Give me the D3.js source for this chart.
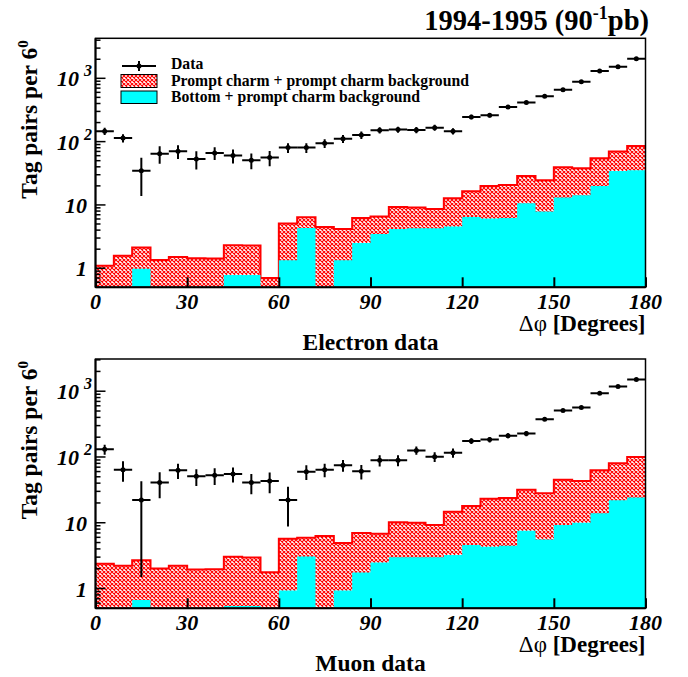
<!DOCTYPE html>
<html><head><meta charset="utf-8">
<script src="https://cdn.jsdelivr.net/npm/d3@7"></script>
<style>body{margin:0;background:#fff}svg{display:block}</style>
</head><body>
<svg id="c" width="688" height="677"></svg>
<script>
// ---------------- data ----------------
const binEdges = d3.range(0, 181, 6);           // 30 bins of 6 degrees
const xTicks = [0, 30, 60, 90, 120, 150, 180];
const yTickLabels = [["1", ""], ["10", ""], ["10", "2"], ["10", "3"]];
const yTickValues = [1, 10, 100, 1000];

// Electron data
const eData = [146,114,34.8,64.6,70.3,53.2,66.2,60.1,50.7,55.9,80.4,80.4,94.2,111,127,
               151,155,153,166,146,245,261,353,413,520,662,886,1305,1528,2045];
const eErr  = [19,17,21,20,17,17,15,15,14,15,14,14,15,16,17,
               17,17,17,18,17,20,20,22,24,26,28,32,38,42,48];
const eTotal = [1.09,1.58,2.12,1.35,1.51,1.44,1.42,2.31,2.28,0.70,5.07,6.39,4.49,4.18,6.24,
                6.54,9.3,9.1,8.65,12.7,16.4,19.9,20.7,28.7,24.5,39.3,37.9,54.6,69.5,85.4];
const eBottom = [0,0,0.98,0,0,0,0,0.78,0.78,0,1.34,4.33,0,1.34,2.51,
                 3.48,4.18,4.27,4.27,4.55,6.46,6.08,6.24,10.6,7.85,13.1,14.2,19.9,34.4,35.3];

// Muon data
const mData = [131,64.1,22.1,41.1,62.7,50.8,52.6,55.1,41.1,43.1,22.1,59.8,64.1,74.7,60.5,
               88.9,89.5,126,101,116,175,184,211,227,375,508,564,933,1178,1506];
const mErr  = [23,22,20.6,17.5,16.5,14.5,15,14,14,15,13.3,15,15,15,15,
               17,17,18,17,19,18,18,19,20,22,25,27,32,36,40];
const mTotal = [2.38,2.21,2.7,2.02,2.21,1.95,1.97,3.04,2.96,1.77,5.71,5.91,6.26,4.9,6.96,
                6.8,10.2,10.0,9.2,14.7,17.9,23.2,23.8,31.8,28,45.2,43.1,62.7,80.1,100];
const mBottom = [0,0,0.67,0,0,0,0,0.54,0.54,0,0.93,3.07,0,0.93,1.75,
                 2.49,3.0,3.0,3.0,3.22,4.57,4.31,4.47,7.55,5.57,9.2,10,14,21.9,24.3];

const legendLabels = ["Data", "Prompt charm + prompt charm background", "Bottom + prompt charm background"];
const titleParts = ["1994-1995 (90", "-1", "pb)"];
const yTitle = ["Tag pairs per 6", "0"];
const xTitleSym = "\u0394\u03c6";
const xTitleText = " [Degrees]";

// ---------------- drawing ----------------
const FONT = "'Liberation Serif','Times New Roman',Times,serif";
const svg = d3.select("#c");
const defs = svg.append("defs");
const pat = defs.append("pattern").attr("id", "hatch").attr("patternUnits", "userSpaceOnUse")
  .attr("width", 4).attr("height", 4);
pat.append("rect").attr("width", 4).attr("height", 4).attr("fill", "#fff");
pat.append("path").attr("d", "M0,0L4,4M4,0L0,4").attr("stroke", "#ff0000").attr("stroke-width", 1.1);

const nb = binEdges.length - 1;

function panel(cfg) {
  const x = d3.scaleLinear().domain([0, 180]).range([95.5, 645.5]);
  const y = d3.scaleLog().domain([0.5, cfg.yMax]).range([cfg.y1, cfg.y0]);
  const yMin = y.domain()[0];
  const g = svg.append("g");
  const clipId = "clip" + cfg.id;
  defs.append("clipPath").attr("id", clipId).append("rect")
    .attr("x", x(0)).attr("y", cfg.y0).attr("width", x(180) - x(0)).attr("height", cfg.y1 - cfg.y0);
  const plot = g.append("g").attr("clip-path", `url(#${clipId})`);

  const stepPts = vals => binEdges.map((e, i) => ({ x: e, v: Math.max(vals[Math.min(i, nb - 1)], yMin) }));
  const area = d3.area().curve(d3.curveStepAfter).x(d => x(d.x)).y0(y(yMin)).y1(d => y(d.v));
  const line = d3.line().curve(d3.curveStepAfter).x(d => x(d.x)).y(d => y(d.v));

  plot.append("path").datum(stepPts(cfg.total)).attr("d", area).attr("fill", "url(#hatch)");
  plot.append("path").datum(stepPts(cfg.total)).attr("d", line).attr("fill", "none")
    .attr("stroke", "#ff0000").attr("stroke-width", 2);
  plot.append("path").datum(stepPts(cfg.bottomVals)).attr("d", area).attr("fill", "#00ffff");

  // data points
  const pts = plot.append("g").selectAll("g").data(cfg.data.map((v, i) => ({ i, v, e: cfg.err[i] })))
    .join("g");
  pts.append("line").attr("x1", d => x(binEdges[d.i])).attr("x2", d => x(binEdges[d.i + 1]))
    .attr("y1", d => y(d.v)).attr("y2", d => y(d.v)).attr("stroke", "#000").attr("stroke-width", 2);
  pts.append("line").attr("x1", d => x(binEdges[d.i] + 3)).attr("x2", d => x(binEdges[d.i] + 3))
    .attr("y1", d => y(d.v + d.e)).attr("y2", d => y(Math.max(d.v - d.e, yMin)))
    .attr("stroke", "#000").attr("stroke-width", 2);
  pts.append("circle").attr("cx", d => x(binEdges[d.i] + 3)).attr("cy", d => y(d.v)).attr("r", 2.5).attr("fill", "#000");

  // frame
  g.append("rect").attr("x", x(0)).attr("y", cfg.y0).attr("width", x(180) - x(0)).attr("height", cfg.y1 - cfg.y0)
    .attr("fill", "none").attr("stroke", "#000").attr("stroke-width", 1.5);

  // y axis ticks (inward)
  const allTicks = y.ticks();
  const yAx = g.append("g");
  allTicks.forEach(t => {
    const major = Math.abs(Math.log10(t) - Math.round(Math.log10(t))) < 1e-9;
    yAx.append("line").attr("x1", x(0)).attr("x2", x(0) + (major ? 10 : 5))
      .attr("y1", y(t)).attr("y2", y(t)).attr("stroke", "#000").attr("stroke-width", 1.5);
  });
  g.append("line").attr("x1", x(0)).attr("x2", x(0)).attr("y1", cfg.y0).attr("y2", cfg.y1)
    .attr("stroke", "#000").attr("stroke-width", 2);
  // y tick labels
  yTickValues.forEach((v, k) => {
    const [b, e] = yTickLabels[k];
    const t = g.append("text").attr("x", e ? 92 : 87).attr("y", y(v) + 8).attr("text-anchor", "end")
      .attr("font-family", FONT).attr("font-weight", "bold").attr("font-style", "italic").attr("font-size", 22);
    t.append("tspan").text(b);
    if (e) t.append("tspan").attr("dx", 5).attr("dy", -10).attr("font-size", 16).text(e);
  });

  // x axis
  const xAx = g.append("g").attr("transform", `translate(0,${cfg.y1})`)
    .call(d3.axisBottom(x).tickValues(xTicks).tickSize(-10).tickFormat(""));
  xAx.select(".domain").remove();
  xAx.selectAll(".tick line").attr("stroke", "#000").attr("stroke-width", 2);
  g.append("line").attr("x1", x(0)).attr("x2", x(180)).attr("y1", cfg.y1).attr("y2", cfg.y1)
    .attr("stroke", "#000").attr("stroke-width", 2);
  xTicks.forEach(v => {
    g.append("text").attr("x", x(v)).attr("y", cfg.y1 + 22).attr("text-anchor", "middle")
      .attr("font-family", FONT).attr("font-weight", "bold").attr("font-style", "italic").attr("font-size", 22)
      .text(v);
  });
  const xt = g.append("text").attr("x", x(180)).attr("y", cfg.y1 + 44).attr("text-anchor", "end")
    .attr("font-family", FONT).attr("font-size", 23);
  xt.append("tspan").text(xTitleSym);
  xt.append("tspan").attr("font-weight", "bold").text(xTitleText);
  g.append("text").attr("x", (x(0) + x(180)) / 2).attr("y", cfg.y1 + 63).attr("text-anchor", "middle")
    .attr("font-family", FONT).attr("font-weight", "bold").attr("font-size", 23.5).text(cfg.name);

  // y title
  const yt = g.append("text").attr("transform", `translate(37,${cfg.y0 + 2}) rotate(-90)`)
    .attr("text-anchor", "end").attr("font-family", FONT).attr("font-weight", "bold").attr("font-size", 23.5);
  yt.append("tspan").text(yTitle[0]);
  yt.append("tspan").attr("dy", -9).attr("font-size", 15).text(yTitle[1]);
  return { x, y, g };
}

panel({ id: "e", y0: 38.3, y1: 287.3, yMax: 4285, data: eData, err: eErr,
  total: eTotal, bottomVals: eBottom, name: "Electron data" });
panel({ id: "m", y0: 359, y1: 608.3, yMax: 3090, data: mData, err: mErr,
  total: mTotal, bottomVals: mBottom, name: "Muon data" });

// title
const tt = svg.append("text").attr("x", 649).attr("y", 30).attr("text-anchor", "end")
  .attr("font-family", FONT).attr("font-weight", "bold").attr("font-size", 28.5);
tt.append("tspan").text(titleParts[0]);
tt.append("tspan").attr("dy", -11).attr("font-size", 18).text(titleParts[1]);
tt.append("tspan").attr("dy", 11).text(titleParts[2]);

// legend (top panel)
const lg = svg.append("g");
lg.append("line").attr("x1", 122).attr("x2", 156).attr("y1", 66).attr("y2", 66).attr("stroke", "#000").attr("stroke-width", 2);
lg.append("line").attr("x1", 139).attr("x2", 139).attr("y1", 61).attr("y2", 71).attr("stroke", "#000").attr("stroke-width", 2);
lg.append("circle").attr("cx", 139).attr("cy", 66).attr("r", 2.5).attr("fill", "#000");
lg.append("rect").attr("x", 121).attr("y", 74.5).attr("width", 36).attr("height", 13)
  .attr("fill", "url(#hatch)").attr("stroke", "#000").attr("stroke-width", 1);
lg.append("rect").attr("x", 121).attr("y", 91).attr("width", 36).attr("height", 12.5)
  .attr("fill", "#00ffff").attr("stroke", "#000").attr("stroke-width", 1);
[69, 86, 101.8].forEach((yy, k) => {
  lg.append("text").attr("x", 171).attr("y", yy).attr("font-family", FONT).attr("font-weight", "bold")
    .attr("font-size", 15.7).text(legendLabels[k]);
});
</script>
</body></html>
